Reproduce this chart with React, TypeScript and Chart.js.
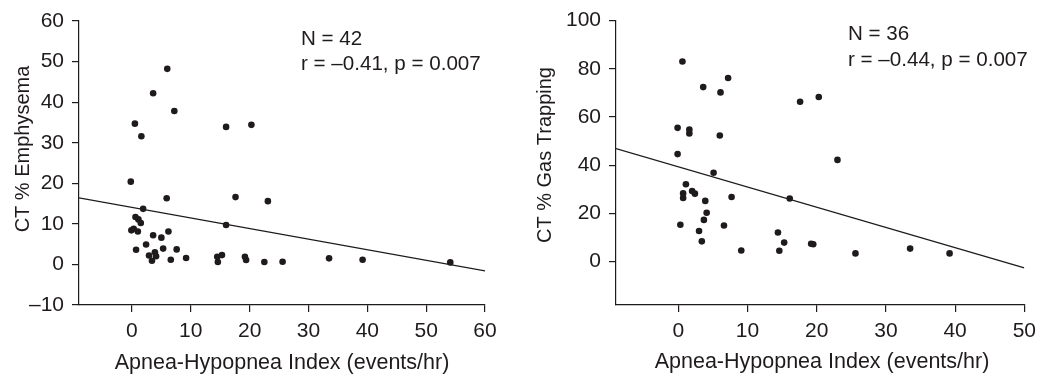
import React, { useEffect, useRef } from 'react';
import { Chart, registerables } from 'chart.js';

Chart.register(...registerables);

// ---------- Data ----------
const emphysemaAHI = [
  6.0, 3.6, 7.2, 0.5, 1.6, 16.0, 20.3, -0.2, 5.9, 17.6, 23.1, 1.9, 0.6, 1.1, 1.5, 16.0,
  -0.1, 0.3, 1.0, 3.6, 6.2, 5.0, 2.4, 0.7, 5.3, 7.6, 2.9, 3.9, 4.1, 3.4, 6.6, 9.2,
  14.5, 15.3, 14.6, 19.2, 19.4, 22.5, 25.6, 33.5, 39.2, 54.1,
];
const emphysemaPct = [
  48.2, 42.2, 37.8, 34.7, 31.6, 33.9, 34.4, 20.4, 16.3, 16.6, 15.6, 13.7, 11.7, 11.1, 10.2, 9.7,
  8.4, 8.8, 8.1, 7.2, 8.1, 6.6, 4.9, 3.6, 3.9, 3.7, 2.2, 3.0, 2.0, 0.9, 1.15, 1.6,
  1.9, 2.3, 0.6, 1.9, 1.1, 0.6, 0.65, 1.5, 1.15, 0.5,
];
const emphysemaFitX = [-9, 60];
const emphysemaFitY = [16.4, -1.6];

const gasAHI = [
  0.6, 3.6, 7.2, 6.1, 17.6, 20.3, -0.1, 1.6, 1.6, 6.0, -0.1, 5.1, 23.0, 1.1, 0.7, 0.7,
  2.0, 2.4, 3.9, 7.7, 16.1, 4.1, 3.7, 0.3, 6.6, 3.0, 14.4, 3.4, 15.3, 9.1, 14.6, 19.2,
  19.5, 25.6, 33.5, 39.2,
];
const gasPct = [
  83.0, 72.4, 76.2, 70.2, 66.3, 68.3, 55.5, 54.8, 53.2, 52.3, 44.6, 36.9, 42.2, 32.1, 28.3, 26.4,
  29.3, 28.2, 25.2, 26.8, 26.2, 20.3, 17.3, 15.3, 15.0, 12.7, 12.1, 8.4, 7.9, 4.6, 4.5, 7.4,
  7.2, 3.4, 5.4, 3.4,
];
const gasFitX = [-9, 50];
const gasFitY = [46.9, -2.6];

const emphysemaXTicks = [0, 10, 20, 30, 40, 50, 60];
const emphysemaYTicks = [-10, 0, 10, 20, 30, 40, 50, 60];
const gasXTicks = [0, 10, 20, 30, 40, 50];
const gasYTicks = [0, 20, 40, 60, 80, 100];

const xTitle = 'Apnea-Hypopnea Index (events/hr)';
const emphysemaYTitle = 'CT % Emphysema';
const gasYTitle = 'CT % Gas Trapping';
const emphysemaNote = ['N = 42', 'r = \u20130.41, p = 0.007'];
const gasNote = ['N = 36', 'r = \u20130.44, p = 0.007'];

// ---------- Styling ----------
const INK = '#1f1b1c';
const FONT = '"Liberation Sans", Arial, Helvetica, sans-serif';

const fmt = (v: number | string) => {
  const n = Number(v);
  return n < 0 ? '\u2013' + Math.abs(n) : String(n);
};

interface Spec {
  xs: number[];
  ys: number[];
  fitX: number[];
  fitY: number[];
  xMin: number;
  xMax: number;
  yMin: number;
  yMax: number;
  xTicks: number[];
  yTicks: number[];
  yAxisWidth: number;
  padRight: number;
  padTop: number;
  yTitle: string;
  yTitlePos: [number, number];
  xTitlePos: [number, number];
  note: string[];
  notePos: [number, number, number];
}

function makeConfig(s: Spec): any {
  const textPlugin = {
    id: 'texts',
    afterDraw(chart: any) {
      const ctx = chart.ctx as CanvasRenderingContext2D;
      ctx.save();
      ctx.fillStyle = INK;
      // x title
      ctx.font = `21.5px ${FONT}`;
      ctx.textAlign = 'center';
      ctx.textBaseline = 'alphabetic';
      ctx.fillText(xTitle, s.xTitlePos[0], s.xTitlePos[1]);
      // y title
      ctx.save();
      ctx.font = `20px ${FONT}`;
      ctx.translate(s.yTitlePos[0], s.yTitlePos[1]);
      ctx.rotate(-Math.PI / 2);
      ctx.textBaseline = 'middle';
      ctx.fillText(s.yTitle, 0, 0);
      ctx.restore();
      // annotation
      ctx.font = `20.6px ${FONT}`;
      ctx.textAlign = 'left';
      ctx.textBaseline = 'alphabetic';
      ctx.fillText(s.note[0], s.notePos[0], s.notePos[1]);
      ctx.fillText(s.note[1], s.notePos[0], s.notePos[2]);
      ctx.restore();
    },
  };

  return {
    type: 'scatter',
    data: {
      datasets: [
        {
          data: s.xs.map((x, i) => ({ x, y: s.ys[i] })),
          pointRadius: 3.3,
          pointBackgroundColor: INK,
          pointBorderWidth: 0,
          showLine: false,
        },
        {
          data: s.fitX.map((x, i) => ({ x, y: s.fitY[i] })),
          showLine: true,
          pointRadius: 0,
          borderColor: INK,
          borderWidth: 1.3,
          fill: false,
        },
      ],
    },
    options: {
      animation: false,
      responsive: false,
      devicePixelRatio: 1,
      events: [],
      layout: { padding: { left: 0, right: s.padRight, top: s.padTop, bottom: 0 } },
      plugins: {
        legend: { display: false },
        tooltip: { enabled: false },
        title: { display: false },
      },
      scales: {
        x: {
          type: 'linear',
          min: s.xMin,
          max: s.xMax,
          afterBuildTicks: (sc: any) => {
            sc.ticks = s.xTicks.map((v) => ({ value: v }));
          },
          afterFit: (sc: any) => {
            sc.height = 70;
          },
          grid: {
            display: true,
            drawOnChartArea: false,
            drawTicks: true,
            tickLength: 7,
            color: INK,
            lineWidth: 1.2,
          },
          border: { display: true, color: INK, width: 1.2 },
          ticks: {
            color: INK,
            font: { family: FONT, size: 21 },
            padding: 7,
            maxRotation: 0,
            autoSkip: false,
            callback: fmt,
          },
        },
        y: {
          type: 'linear',
          min: s.yMin,
          max: s.yMax,
          afterBuildTicks: (sc: any) => {
            sc.ticks = s.yTicks.map((v) => ({ value: v }));
          },
          afterFit: (sc: any) => {
            sc.width = s.yAxisWidth;
          },
          grid: {
            display: true,
            drawOnChartArea: false,
            drawTicks: true,
            tickLength: 7,
            color: INK,
            lineWidth: 1.2,
          },
          border: { display: true, color: INK, width: 1.2 },
          ticks: {
            color: INK,
            font: { family: FONT, size: 21 },
            padding: 8,
            autoSkip: false,
            callback: fmt,
          },
        },
      },
    },
    plugins: [textPlugin],
  };
}

function ChartCanvas({ spec, width, height, left }: { spec: Spec; width: number; height: number; left: number }) {
  const ref = useRef<HTMLCanvasElement>(null);
  useEffect(() => {
    if (!ref.current) return;
    const chart = new Chart(ref.current, makeConfig(spec));
    return () => chart.destroy();
  }, []);
  return (
    <canvas
      ref={ref}
      width={width}
      height={height}
      style={{ position: 'absolute', left, top: 0, width, height, display: 'block' }}
    />
  );
}

const leftSpec: Spec = {
  xs: emphysemaAHI,
  ys: emphysemaPct,
  fitX: emphysemaFitX,
  fitY: emphysemaFitY,
  xMin: -9,
  xMax: 60,
  yMin: -10,
  yMax: 60,
  xTicks: emphysemaXTicks,
  yTicks: emphysemaYTicks,
  yAxisWidth: 79,
  padRight: 35,
  padTop: 21,
  yTitle: emphysemaYTitle,
  yTitlePos: [23, 149],
  xTitlePos: [282, 369],
  note: emphysemaNote,
  notePos: [301, 45, 70],
};

const rightSpec: Spec = {
  xs: gasAHI,
  ys: gasPct,
  fitX: gasFitX,
  fitY: gasFitY,
  xMin: -9,
  xMax: 50,
  yMin: -18,
  yMax: 100,
  xTicks: gasXTicks,
  yTicks: gasYTicks,
  yAxisWidth: 96,
  padRight: 14,
  padTop: 16,
  yTitle: gasYTitle,
  yTitlePos: [25, 155],
  xTitlePos: [302, 368],
  note: gasNote,
  notePos: [328, 40, 66],
};

export default function App() {
  return (
    <div
      style={{
        position: 'absolute',
        left: 0,
        top: 0,
        width: 1043,
        height: 375,
        background: '#ffffff',
        overflow: 'hidden',
      }}
    >
      <ChartCanvas spec={leftSpec} width={520} height={375} left={0} />
      <ChartCanvas spec={rightSpec} width={523} height={375} left={520} />
    </div>
  );
}
